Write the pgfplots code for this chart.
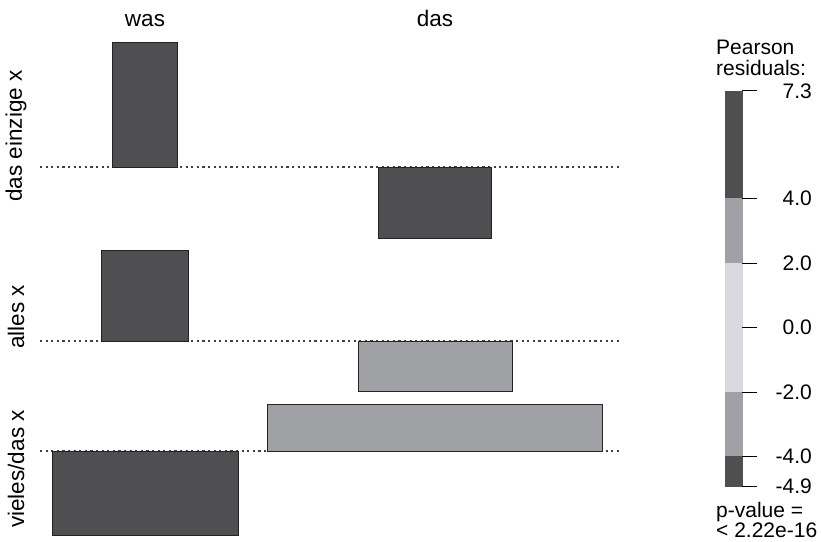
\documentclass[border=0pt]{standalone}
\usepackage{pgfplots}
\pgfplotsset{compat=1.18}
\usepackage{fontspec}
\setmainfont{Liberation Sans}
\definecolor{cdark}{RGB}{79,79,81}
\definecolor{cmid}{RGB}{160,161,165}
\definecolor{clight}{RGB}{217,218,221}
\definecolor{cline}{RGB}{35,35,35}
\begin{document}
\fontsize{22.5bp}{27bp}\selectfont
\begin{tikzpicture}
\path[use as bounding box] (0,0) rectangle (821bp,542bp);
\begin{axis}[
  at={(0,0)}, anchor=south west,
  width=821bp, height=542bp, scale only axis,
  xmin=0, xmax=821, ymin=0, ymax=542, y dir=reverse,
  hide axis, clip=false,
]
% baselines (dotted)
\addplot[draw=black!75, line width=1.2bp, dash pattern=on 2.2bp off 3.4bp] coordinates {(40,167) (620,167)};
\addplot[draw=black!75, line width=1.2bp, dash pattern=on 2.2bp off 3.4bp] coordinates {(40,341) (620,341)};
\addplot[draw=black!75, line width=1.2bp, dash pattern=on 2.2bp off 3.4bp] coordinates {(40,451) (620,451)};
% residual rectangles
\addplot[fill=cdark, draw=cline, line width=0.9bp] coordinates {(112,42) (177,42) (177,167) (112,167)} --cycle;
\addplot[fill=cdark, draw=cline, line width=0.9bp] coordinates {(378,167) (491,167) (491,238) (378,238)} --cycle;
\addplot[fill=cdark, draw=cline, line width=0.9bp] coordinates {(101,250) (188,250) (188,341) (101,341)} --cycle;
\addplot[fill=cmid, draw=cline, line width=0.9bp] coordinates {(358,341) (512,341) (512,391) (358,391)} --cycle;
\addplot[fill=cmid, draw=cline, line width=0.9bp] coordinates {(267,404) (602,404) (602,451) (267,451)} --cycle;
\addplot[fill=cdark, draw=cline, line width=0.9bp] coordinates {(52,451) (238,451) (238,535) (52,535)} --cycle;
% legend bar
\addplot[fill=cdark, draw=cdark, line width=0.3bp] coordinates {(725,91) (742,91) (742,198) (725,198)} --cycle;
\addplot[fill=cmid, draw=cmid, line width=0.3bp] coordinates {(725,198) (742,198) (742,263) (725,263)} --cycle;
\addplot[fill=clight, draw=clight, line width=0.3bp] coordinates {(725,263) (742,263) (742,392) (725,392)} --cycle;
\addplot[fill=cmid, draw=cmid, line width=0.3bp] coordinates {(725,392) (742,392) (742,456) (725,456)} --cycle;
\addplot[fill=cdark, draw=cdark, line width=0.3bp] coordinates {(725,456) (742,456) (742,486) (725,486)} --cycle;
% legend ticks
\addplot[draw=black, line width=1bp] coordinates {(742,91) (757,91)};
\addplot[draw=black, line width=1bp] coordinates {(742,198) (757,198)};
\addplot[draw=black, line width=1bp] coordinates {(742,263) (757,263)};
\addplot[draw=black, line width=1bp] coordinates {(742,327) (757,327)};
\addplot[draw=black, line width=1bp] coordinates {(742,392) (757,392)};
\addplot[draw=black, line width=1bp] coordinates {(742,456) (757,456)};
\addplot[draw=black, line width=1bp] coordinates {(742,486) (757,486)};
% texts
\node[anchor=base, inner sep=0pt] at (axis cs:145,27) {was};
\node[anchor=base, inner sep=0pt] at (axis cs:435,27) {das};
\node[rotate=90, inner sep=0pt] at (axis cs:16,136) {das einzige x};
\node[rotate=90, inner sep=0pt] at (axis cs:16,317) {alles x};
\node[rotate=90, inner sep=0pt] at (axis cs:16,469) {vieles/das x};
\begin{scope}[font=\fontsize{21bp}{25bp}\selectfont]
\node[anchor=base west, inner sep=0pt] at (axis cs:716,55) {Pearson};
\node[anchor=base west, inner sep=0pt] at (axis cs:716,76) {residuals:};
\node[anchor=east, inner sep=0pt] at (axis cs:812,91) {7.3};
\node[anchor=east, inner sep=0pt] at (axis cs:812,198) {4.0};
\node[anchor=east, inner sep=0pt] at (axis cs:812,263) {2.0};
\node[anchor=east, inner sep=0pt] at (axis cs:812,327) {0.0};
\node[anchor=east, inner sep=0pt] at (axis cs:812,392) {-2.0};
\node[anchor=east, inner sep=0pt] at (axis cs:812,456) {-4.0};
\node[anchor=east, inner sep=0pt] at (axis cs:812,486) {-4.9};
\node[anchor=base west, inner sep=0pt] at (axis cs:716,517) {p-value =};
\node[anchor=base west, inner sep=0pt] at (axis cs:716,537.5) {< 2.22e-16};
\end{scope}
\end{axis}
\end{tikzpicture}
\end{document}
